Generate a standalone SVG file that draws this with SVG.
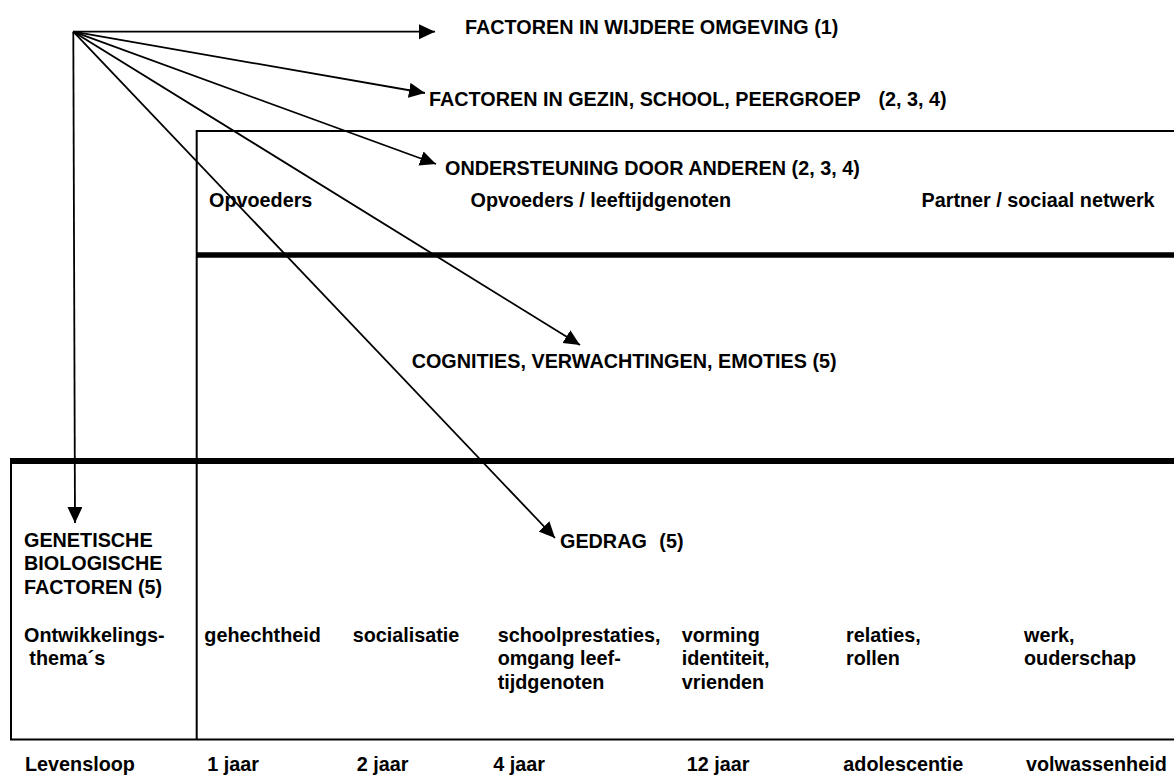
<svg xmlns="http://www.w3.org/2000/svg" width="1174" height="776" viewBox="0 0 1174 776">
<style>
text { font-family: "Liberation Sans", Arial, sans-serif; font-weight: bold; font-size: 19.8px; fill: #000; }
.thin { stroke: #000; stroke-width: 2; fill: none; }
.thick { stroke: #000; stroke-width: 5.5; fill: none; }
.arr { stroke: #000; stroke-width: 1.8; fill: none; marker-end: url(#head); }
</style>
<defs>
<marker id="head" markerUnits="userSpaceOnUse" markerWidth="17" markerHeight="16" refX="16" refY="7.5" orient="auto">
<path d="M0,0 L16,7.5 L0,15 z" fill="#000"/>
</marker>
</defs>
<rect width="1174" height="776" fill="#fff"/>

<g id="frame">
<line class="thin" x1="196.7" y1="131" x2="1174" y2="131"/>
<line class="thin" x1="196.7" y1="130" x2="196.7" y2="740"/>
<line class="thick" x1="196.7" y1="255" x2="1174" y2="255"/>
<line class="thick" x1="11" y1="461" x2="1174" y2="461" style="stroke-width:6"/>
<line class="thin" x1="11" y1="458" x2="11" y2="740"/>
<line class="thin" x1="10" y1="739.5" x2="1174" y2="739.5"/>
</g>

<g id="connectors">
<line class="arr" x1="73.3" y1="31.7" x2="435" y2="31.7"/>
<line class="arr" x1="73.3" y1="31.7" x2="425" y2="93"/>
<line class="arr" x1="73.3" y1="31.7" x2="436" y2="164"/>
<line class="arr" x1="73.3" y1="31.7" x2="580" y2="345"/>
<line class="arr" x1="73.3" y1="31.7" x2="555" y2="538"/>
<line class="arr" x1="73.3" y1="31.7" x2="75" y2="523"/>
</g>

<g id="wijdere-omgeving"><text x="465" y="33.5">FACTOREN IN WIJDERE OMGEVING (1)</text></g>
<g id="gezin-school"><text x="429" y="106">FACTOREN IN GEZIN, SCHOOL, PEERGROEP <tspan x="878.5">(2, 3, 4)</tspan></text></g>
<g id="ondersteuning"><text x="445" y="175">ONDERSTEUNING DOOR ANDEREN (2, 3, 4)</text></g>
<g id="support-row">
<text x="209" y="207">Opvoeders</text>
<text x="470.5" y="207">Opvoeders / leeftijdgenoten</text>
<text x="921.5" y="207">Partner / sociaal netwerk</text>
</g>
<g id="cognities"><text x="411.7" y="368">COGNITIES, VERWACHTINGEN, EMOTIES (5)</text></g>
<g id="gedrag"><text x="560" y="548">GEDRAG <tspan x="659.3">(5)</tspan></text></g>
<g id="genetische">
<text x="24" y="546.5">GENETISCHE</text>
<text x="24" y="570">BIOLOGISCHE</text>
<text x="24" y="593.5">FACTOREN (5)</text>
</g>
<g id="themas">
<text x="24" y="641.5">Ontwikkelings-</text>
<text x="29.3" y="665">thema´s</text>
<text x="204.3" y="641.5">gehechtheid</text>
<text x="352.7" y="641.5">socialisatie</text>
<text x="497.7" y="641.5">schoolprestaties,</text>
<text x="497.7" y="665">omgang leef-</text>
<text x="497.7" y="688.5">tijdgenoten</text>
<text x="681.7" y="641.5">vorming</text>
<text x="681.7" y="665">identiteit,</text>
<text x="681.7" y="688.5">vrienden</text>
<text x="846" y="641.5">relaties,</text>
<text x="846" y="665">rollen</text>
<text x="1024" y="641.5">werk,</text>
<text x="1024" y="665">ouderschap</text>
</g>
<g id="levensloop">
<text x="25" y="771">Levensloop</text>
<text x="207.3" y="771">1 jaar</text>
<text x="356.7" y="771">2 jaar</text>
<text x="493.3" y="771">4 jaar</text>
<text x="686.7" y="771">12 jaar</text>
<text x="843.3" y="771">adolescentie</text>
<text x="1026" y="771">volwassenheid</text>
</g>
</svg>
